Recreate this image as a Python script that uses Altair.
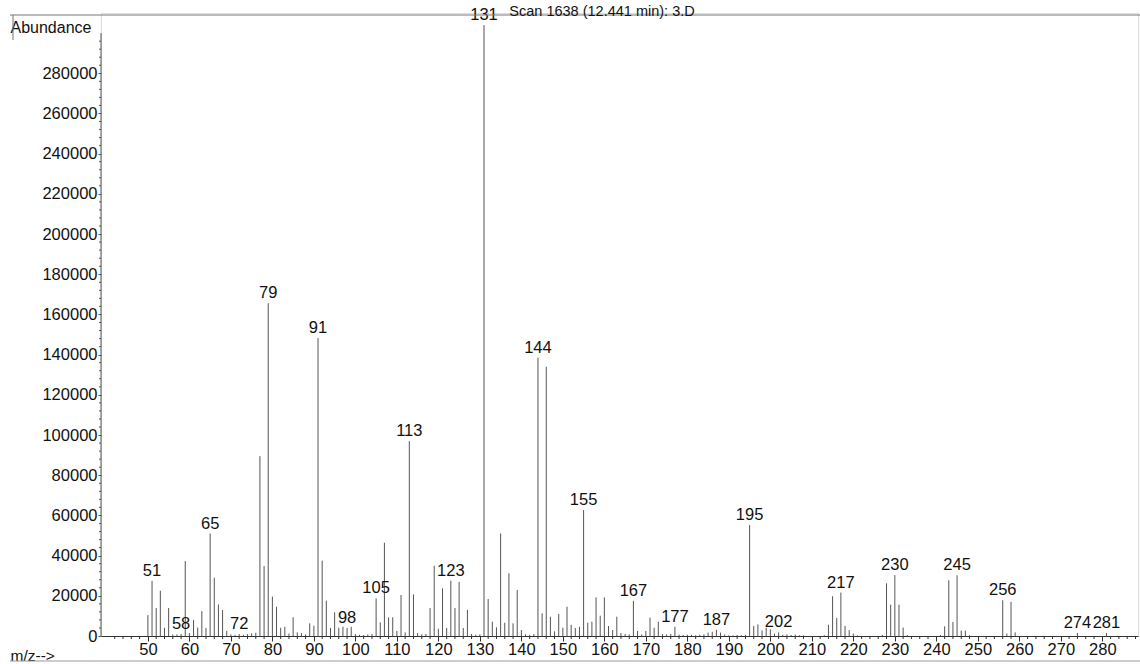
import altair as alt
import pandas as pd

# m/z values and abundances
mz = [50, 51, 52, 53, 54, 55, 56, 57, 58, 59, 60, 61, 62, 63, 64, 65, 66, 67, 68, 69,
      70, 71, 72, 73, 74, 75, 76, 77, 78, 79, 80, 81, 82, 83, 84, 85, 86, 87, 88, 89,
      90, 91, 92, 93, 94, 95, 96, 97, 98, 99, 100, 101, 102, 103, 104, 105, 106, 107, 108, 109,
      110, 111, 112, 113, 114, 115, 116, 117, 118, 119, 120, 121, 122, 123, 124, 125, 126, 127, 128, 129,
      130, 131, 132, 133, 134, 135, 136, 137, 138, 139, 140, 141, 142, 143, 144, 145, 146, 147, 148, 149,
      150, 151, 152, 153, 154, 155, 156, 157, 158, 159, 160, 161, 162, 163, 164, 165, 166, 167, 168, 169,
      170, 171, 172, 173, 174, 175, 176, 177, 178, 179, 180, 181, 182, 183, 184, 185, 186, 187, 188, 189,
      190, 191, 192, 193, 194, 195, 196, 197, 198, 199, 200, 201, 202, 203, 204, 205, 206, 207, 208,
      213, 214, 215, 216, 217, 218, 219, 220, 221,
      227, 228, 229, 230, 231, 232, 233,
      241, 242, 243, 244, 245, 246, 247, 248,
      256, 257, 258, 259, 274, 281]

abundance = [10400, 27400, 13900, 22500, 4100, 13900, 800, 800, 1000, 37300, 1500, 8000, 4200, 12400, 4000, 51000, 29000, 15700, 12900, 2500,
             800, 600, 1000, 600, 900, 1300, 1600, 89500, 34800, 165600, 19600, 14600, 4100, 4600, 1200, 9300, 1800, 1500, 800, 6300,
             5100, 148200, 37500, 17600, 4000, 11800, 4100, 4600, 4000, 4600, 1000, 600, 500, 800, 1000, 18700, 6800, 46400, 9300, 9300,
             2500, 20400, 1800, 97000, 20700, 1500, 800, 1000, 13900, 35000, 3600, 23700, 4000, 27500, 13900, 26900, 4000, 13000, 1000, 600,
             800, 304000, 18400, 7100, 4300, 51000, 6600, 31200, 6300, 22900, 3000, 800, 600, 1000, 138500, 11300, 134000, 9600, 2300, 11000,
             4100, 14600, 5600, 4000, 4600, 62700, 6600, 7100, 19200, 10100, 19200, 5000, 3000, 9600, 1500, 1000, 800, 17500, 2500, 800,
             2500, 9100, 4100, 7100, 1000, 800, 1000, 4600, 700, 500, 600, 500, 400, 600, 800, 1700, 2100, 3100, 1700, 800,
             400, 300, 500, 400, 600, 55200, 5000, 5800, 2800, 4100, 3300, 1200, 1800, 600, 800, 500, 700, 400, 300,
             400, 5600, 19800, 9000, 21600, 5000, 2900, 1200, 300,
             500, 26200, 15600, 30300, 15600, 4200, 500,
             500, 4800, 27700, 7000, 30200, 2700, 2700, 400,
             17800, 1200, 17000, 1800, 1500, 1500]

labeled = [51, 58, 65, 72, 79, 91, 98, 105, 113, 123, 131, 144, 155, 167, 177,
           187, 195, 202, 217, 230, 245, 256, 274, 281]

x_major = list(range(50, 290, 10))
x_minor = [v for v in range(40, 290, 2) if v % 10 != 0]
y_major = list(range(0, 280001, 20000))
y_minor = [v for v in range(0, 300001, 4000) if v % 20000 != 0]

title_text = "Scan 1638 (12.441 min): 3.D"

df = pd.DataFrame({"mz": mz, "abundance": abundance})
df["label"] = [str(m) if m in labeled else "" for m in mz]
lab = df[df["label"] != ""]

FONT = "Liberation Sans"
W, H = 1037, 623
x_scale = alt.Scale(domain=[38.7, 288.6], nice=False, zero=False)
y_scale = alt.Scale(domain=[0, 310000], nice=False)

x_axis = alt.Axis(
    values=x_major, format="d", tickSize=5, grid=False,
    labelFontSize=16.5, labelFont=FONT, labelColor="#111",
    domainColor="#333", tickColor="#333", labelPadding=0,
    labelFlush=False, labelOverlap=False,
    title="m/z-->", titleFont=FONT, titleFontSize=15.5, titleFontWeight="normal",
    titleAnchor="start", titleAlign="left", titleX=-91, titleY=19,
    titleBaseline="middle", titleColor="#111",
)

y_axis = alt.Axis(
    values=y_major, format="d", tickSize=3, grid=False, domain=False,
    labelFontSize=16.5, labelFont=FONT, labelColor="#111",
    tickColor="#555", labelPadding=1, labelOverlap=False,
    title="Abundance", titleFont=FONT, titleFontSize=16, titleFontWeight="normal",
    titleAngle=0, titleAlign="left", titleX=-91, titleY=14,
    titleBaseline="middle", titleColor="#111",
)

bars = alt.Chart(df).mark_rule(color="#555555", strokeWidth=1).encode(
    x=alt.X("mz:Q", scale=x_scale, axis=x_axis),
    y=alt.Y("abundance:Q", scale=y_scale, axis=y_axis),
    y2=alt.datum(0),
)

texts = alt.Chart(lab).mark_text(
    baseline="bottom", dy=-2, fontSize=16.5, font=FONT, color="#111"
).encode(
    x=alt.X("mz:Q", scale=x_scale),
    y=alt.Y("abundance:Q", scale=y_scale),
    text="label:N",
)

# minor ticks of the axes
xminor = alt.Chart(pd.DataFrame({"t": x_minor})).mark_rule(color="#333", strokeWidth=1).encode(
    x=alt.X("t:Q", scale=x_scale), y=alt.value(H), y2=alt.value(H + 3)
)
ydomain = alt.Chart(pd.DataFrame({"k": [0]})).mark_rule(color="#555", strokeWidth=1).encode(
    x=alt.value(0), y=alt.datum(0, scale=y_scale), y2=alt.datum(300000)
)
yminor = alt.Chart(pd.DataFrame({"t": y_minor})).mark_rule(color="#555", strokeWidth=1).encode(
    y=alt.Y("t:Q", scale=y_scale), x=alt.value(-2), x2=alt.value(0)
)

deco = pd.DataFrame({"k": [0]})
title_mark = alt.Chart(deco).mark_text(
    text=title_text, fontSize=14.5, font=FONT, color="#111", align="center", baseline="middle"
).encode(x=alt.value(501), y=alt.value(-1))
top_line = alt.Chart(deco).mark_rule(color="#777", strokeWidth=1).encode(
    x=alt.value(-91), x2=alt.value(1040), y=alt.value(2)
)
left_line = alt.Chart(deco).mark_rule(color="#777", strokeWidth=1).encode(
    x=alt.value(-88), y=alt.value(2), y2=alt.value(27)
)
bottom_line = alt.Chart(deco).mark_rule(color="#999", strokeWidth=1).encode(
    x=alt.value(-91), x2=alt.value(1040), y=alt.value(H + 25)
)

chart = alt.layer(bars, texts, xminor, ydomain, yminor, top_line, left_line, bottom_line, title_mark).properties(
    width=W, height=H,
    autosize=alt.AutoSizeParams(type="none"),
    padding={"left": 101, "top": 13, "right": 2, "bottom": 28},
).configure_view(stroke=None).configure(background="white")

chart.save("out.html", embed_options={"renderer": "svg", "actions": False})
